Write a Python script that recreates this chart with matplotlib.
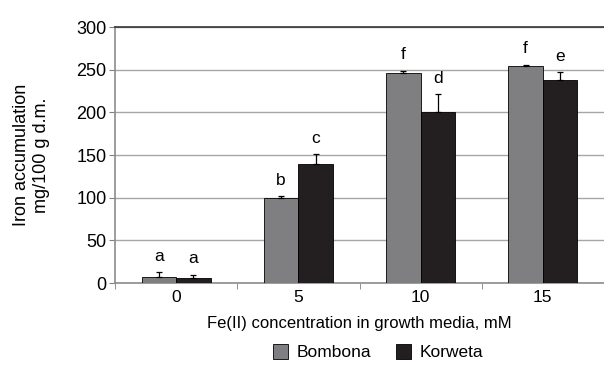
import numpy as np
import matplotlib
matplotlib.use("Agg")
import matplotlib.pyplot as plt

plt.rcParams['font.family'] = ['Liberation Sans', 'DejaVu Sans']

# Dane
concentrations = ['0', '5', '10', '15']
bombona = [6.5, 100, 246, 254]
bombona_err = [6, 1.5, 3, 1.5]
korweta = [5.5, 140, 200, 238]
korweta_err = [4, 11, 21, 9]
bombona_letters = ['a', 'b', 'f', 'f']
korweta_letters = ['a', 'c', 'd', 'e']

c_bombona = '#7f7f81'
c_korweta = '#231f20'

fig = plt.figure(figsize=(6.04, 3.65), dpi=100)
ax = fig.add_axes([115/604, 82/365, 489/604, 256/365])

x = np.arange(len(concentrations))
w = 0.283

err_kw = dict(ecolor='black', elinewidth=0.9, capsize=2.5, capthick=0.9)
ax.bar(x - w/2, bombona, w, yerr=[np.zeros(4), bombona_err], color=c_bombona,
       edgecolor='black', linewidth=0.6, error_kw=err_kw, label='Bombona', zorder=3)
ax.bar(x + w/2, korweta, w, yerr=[np.zeros(4), korweta_err], color=c_korweta,
       edgecolor='black', linewidth=0.6, error_kw=err_kw, label='Korweta', zorder=3)

for i in range(len(x)):
    ax.text(x[i] - w/2, bombona[i] + bombona_err[i] + 10, bombona_letters[i],
            ha='center', va='bottom', fontsize=12.5)
    ax.text(x[i] + w/2, korweta[i] + korweta_err[i] + 10, korweta_letters[i],
            ha='center', va='bottom', fontsize=12.5)

ax.set_xlim(-0.5, 3.444)
ax.set_ylim(0, 300)
ax.set_yticks(np.arange(0, 301, 50))
ax.yaxis.grid(True, color='#a6a6a6', linewidth=1.0, zorder=0)
ax.set_axisbelow(True)

ax.set_xticks(x)
ax.set_xticklabels(concentrations)
ax.set_xticks(np.arange(-0.5, 3.6, 1), minor=True)
ax.tick_params(axis='x', which='major', length=0, labelsize=12.5, pad=5)
ax.tick_params(axis='x', which='minor', length=4, color='#808080', direction='out')
ax.tick_params(axis='y', length=4, color='#808080', direction='out', labelsize=13, pad=2)

for s in ['left', 'bottom']:
    ax.spines[s].set_color('#8c8c8c')
    ax.spines[s].set_linewidth(1.2)
ax.spines['top'].set_color('#333333')
ax.spines['top'].set_linewidth(1.2)
ax.spines['right'].set_visible(False)

ax.set_xlabel('Fe(II) concentration in growth media, mM', fontsize=12, labelpad=8)
ax.set_ylabel('Iron accumulation\nmg/100 g d.m.', fontsize=13, labelpad=19)

fig.legend(loc='center', bbox_to_anchor=(0.626, 0.035), ncol=2, frameon=False,
           fontsize=12.5, handlelength=0.9, handleheight=0.9, columnspacing=1.4,
           handletextpad=0.5)

fig.savefig('out.png', dpi=100)
